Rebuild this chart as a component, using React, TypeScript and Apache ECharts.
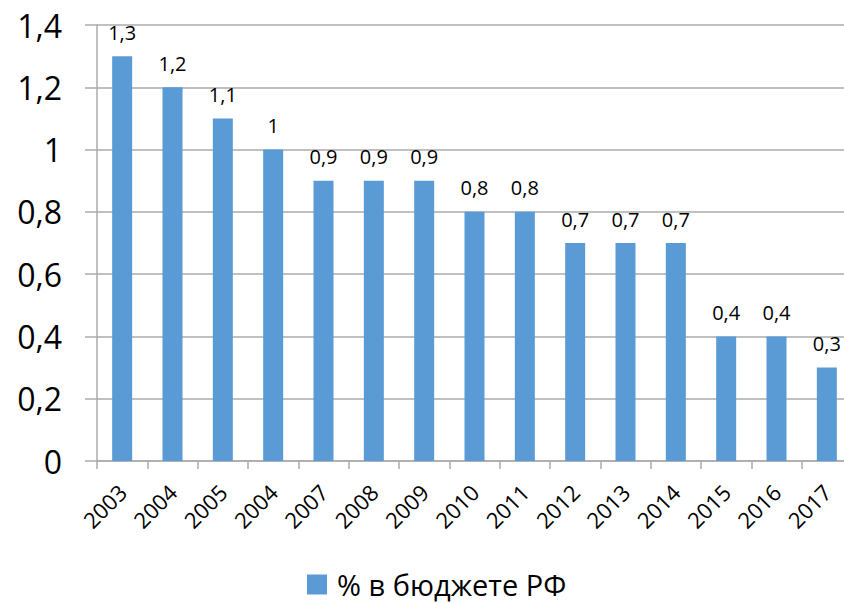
import React, { useEffect, useRef } from "react";
import * as echarts from "echarts";

const years = ["2003", "2004", "2005", "2004", "2007", "2008", "2009", "2010", "2011", "2012", "2013", "2014", "2015", "2016", "2017"];
const shares = [1.3, 1.2, 1.1, 1, 0.9, 0.9, 0.9, 0.8, 0.8, 0.7, 0.7, 0.7, 0.4, 0.4, 0.3];
const seriesName = "% в бюджете РФ";

const fmt = (v: number) => String(+Number(v).toFixed(1)).replace(".", ",");

export default function App() {
  const ref = useRef<HTMLDivElement>(null);
  useEffect(() => {
    if (!ref.current) return;
    const chart = echarts.init(ref.current, null, { renderer: "svg" });
    const font = "'Open Sans', sans-serif";
    chart.setOption({
      animation: false,
      backgroundColor: "#ffffff",
      grid: { left: 97, right: 0, top: 25, bottom: 142 },
      legend: {
        data: [seriesName],
        left: 302,
        top: 565,
        itemWidth: 20,
        itemHeight: 20,
        icon: "rect",
        textStyle: { fontSize: 29, lineHeight: 28, color: "#000", fontFamily: font, padding: [0, 0, 0, 5] },
      },
      xAxis: {
        type: "category",
        data: years,
        axisLine: { lineStyle: { color: "#ABABAB", width: 1.5 } },
        axisTick: { show: true, length: 8, lineStyle: { color: "#ABABAB", width: 1.5 } },
        axisLabel: { rotate: 45, margin: 27, fontSize: 22, color: "#000", fontFamily: font, interval: 0 },
      },
      yAxis: {
        type: "value",
        min: 0,
        max: 1.4,
        interval: 0.2,
        axisLine: { show: true, lineStyle: { color: "#ABABAB", width: 1.5 } },
        axisTick: { show: true, length: 12, lineStyle: { color: "#ABABAB", width: 1.5 } },
        splitLine: { lineStyle: { color: "#ABABAB", width: 1.5 } },
        axisLabel: { margin: 35, fontSize: 32, color: "#000", fontFamily: font, formatter: (v: number) => fmt(v) },
      },
      series: [
        {
          name: seriesName,
          type: "bar",
          data: shares,
          barWidth: 20,
          itemStyle: { color: "#5B9BD5" },
          label: {
            show: true,
            position: "top",
            distance: 14,
            fontSize: 20,
            color: "#000",
            fontFamily: font,
            formatter: (p: any) => fmt(p.value),
          },
        },
      ],
    });
    return () => chart.dispose();
  }, []);
  return (
    <div style={{ position: "fixed", left: 0, top: 0, width: 844, height: 603, overflow: "hidden", background: "#fff" }}>
      <div ref={ref} style={{ position: "absolute", left: 0, top: 0, width: 852, height: 603 }} />
    </div>
  );
}
